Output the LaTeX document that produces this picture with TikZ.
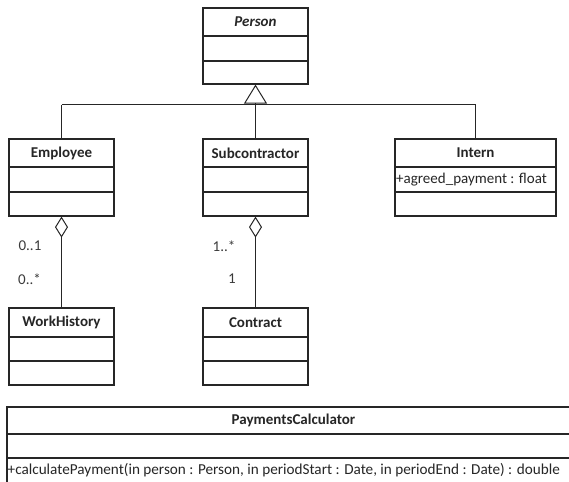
\documentclass[tikz,border=0pt]{standalone}
\usepackage{fontspec}
\setmainfont{Carlito}
\usetikzlibrary{arrows.meta}
\definecolor{linec}{HTML}{262626}
\definecolor{labc}{HTML}{3A3A3A}
\begin{document}
\begin{tikzpicture}[x=1pt,y=-1pt,
  every node/.style={font=\fontsize{15}{18}\selectfont},
  classbox/.style={draw=linec, line width=1.2pt, inner sep=0pt, fill=white},
  ctitle/.style={font=\fontsize{15}{18}\selectfont\bfseries, text=black!85, inner sep=0pt},
  attr/.style={anchor=west, inner sep=0pt, text=black!85},
  mult/.style={inner sep=0pt, text=labc},
  divider/.style={draw=linec, line width=1.2pt},
  conn/.style={draw=linec, line width=1pt}
]
\useasboundingbox (0,0) rectangle (569,481);
\clip (0,0) rectangle (569,481);
% Person
\node[classbox, minimum width=105pt, minimum height=76pt] (person) at (255.5,46) {};
\node[ctitle, font=\fontsize{15}{18}\selectfont\bfseries\itshape] (persont) at (255.5,22) {Person};
\draw[divider] (person.west |- 0,36) -- (person.east |- 0,36);
\draw[divider] (person.west |- 0,61) -- (person.east |- 0,61);
% Employee
\node[classbox, minimum width=105pt, minimum height=77pt] (emp) at (61.5,177.5) {};
\node[ctitle] (empt) at (61.5,153) {Employee};
\draw[divider] (emp.west |- 0,167) -- (emp.east |- 0,167);
\draw[divider] (emp.west |- 0,192) -- (emp.east |- 0,192);
% Subcontractor
\node[classbox, minimum width=105pt, minimum height=77pt] (sub) at (255.5,177.5) {};
\node[ctitle] (subt) at (255.5,153) {Subcontractor};
\draw[divider] (sub.west |- 0,167) -- (sub.east |- 0,167);
\draw[divider] (sub.west |- 0,192) -- (sub.east |- 0,192);
% Intern
\node[classbox, minimum width=161pt, minimum height=77pt] (intern) at (475.5,177.5) {};
\node[ctitle] (internt) at (475.5,153) {Intern};
\draw[divider] (intern.west |- 0,167) -- (intern.east |- 0,167);
\draw[divider] (intern.west |- 0,192) -- (intern.east |- 0,192);
\node[attr] (interna) at (396,179.5) {+agreed\_payment : float};
% WorkHistory
\node[classbox, minimum width=105pt, minimum height=77pt] (wh) at (61.5,346.5) {};
\node[ctitle] (wht) at (61.5,322.5) {WorkHistory};
\draw[divider] (wh.west |- 0,337) -- (wh.east |- 0,337);
\draw[divider] (wh.west |- 0,361) -- (wh.east |- 0,361);
% Contract
\node[classbox, minimum width=105pt, minimum height=77pt] (con) at (255.5,346.5) {};
\node[ctitle] (cont) at (255.5,322.5) {Contract};
\draw[divider] (con.west |- 0,337) -- (con.east |- 0,337);
\draw[divider] (con.west |- 0,361) -- (con.east |- 0,361);
% PaymentsCalculator
\node[classbox, minimum width=573pt, minimum height=78pt] (pay) at (293.5,446) {};
\node[ctitle] (payt) at (293.5,420.5) {PaymentsCalculator};
\draw[divider] (pay.west |- 0,434) -- (pay.east |- 0,434);
\draw[divider] (pay.west |- 0,458) -- (pay.east |- 0,458);
\node[attr, font=\fontsize{15.2}{18}\selectfont] (paym) at (7.5,470) {+calculatePayment(in person : Person, in periodStart : Date, in periodEnd : Date) : double};
% generalization
\coordinate (hy) at (0,105);
\draw[conn, -{Triangle[open, length=19pt, width=23pt, line width=1pt]}] (sub.north) -- (person.south);
\draw[conn] (emp.north |- hy) -- (intern.north |- hy);
\draw[conn] (emp.north) -- (emp.north |- hy);
\draw[conn] (intern.north) -- (intern.north |- hy);
% aggregations
\draw[conn, {Diamond[open, length=21pt, width=13pt, line width=1pt]}-] (emp.south) -- (wh.north);
\draw[conn, {Diamond[open, length=21pt, width=13pt, line width=1pt]}-] (sub.south) -- (con.north);
% multiplicities
\node[mult] (m1) at (30,246) {0..1};
\node[mult] (m2) at (29.5,279) {0..*};
\node[mult] (m3) at (224,246) {1..*};
\node[mult] (m4) at (232,279) {1};
\end{tikzpicture}
\end{document}
